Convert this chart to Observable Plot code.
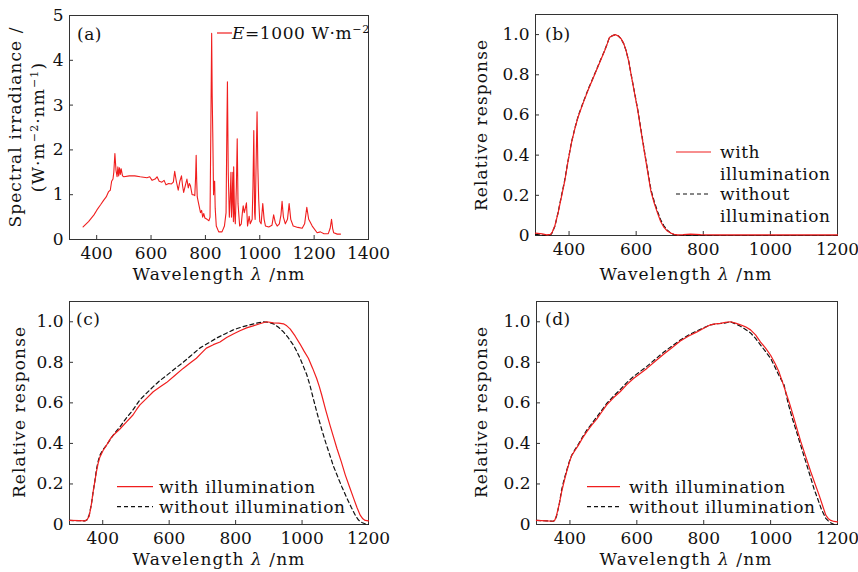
<!DOCTYPE html>
<html><head><meta charset="utf-8">
<script src="https://cdn.jsdelivr.net/npm/d3@7"></script>
<script src="https://cdn.jsdelivr.net/npm/@observablehq/plot@0.6"></script>
<style>
body{margin:0;background:#fff}
#root{position:relative;width:858px;height:572px;overflow:hidden;font-family:"DejaVu Serif",serif}
.panel{position:absolute}
</style>
</head><body><div id="root"></div>
<script>
// ---- data ----
const xTicksA = [400, 600, 800, 1000, 1200, 1400];
const yTicksA = [0, 1, 2, 3, 4, 5];
const xTicksR = [400, 600, 800, 1000, 1200];
const yTicksR = [0, 0.2, 0.4, 0.6, 0.8, 1.0];
const legendWith = "with illumination";
const legendWithout = "without illumination";

// (a) spectral irradiance [nm, W m^-2 nm^-1]
const aSpectrum = [[350,0.28],[370,0.4],[390,0.55],[401,0.66],[415,0.78],[426,0.88],[435,0.95],[444,1.07],[450,1.1],[455,1.3],[460,1.35],[463,1.5],[467,1.92],[471,1.55],[475,1.4],[478,1.62],[481,1.42],[484,1.6],[487,1.45],[490,1.58],[495,1.42],[500,1.4],[520,1.42],[540,1.42],[560,1.4],[585,1.38],[595,1.4],[604,1.32],[615,1.35],[622,1.4],[630,1.3],[640,1.28],[648,1.32],[655,1.22],[665,1.25],[675,1.24],[682,1.28],[687,1.52],[693,1.3],[700,1.1],[706,1.3],[712,1.42],[716,1.2],[720,1.05],[726,1.2],[732,1.35],[737,1.15],[741,1.25],[745,1.2],[751,1.0],[756,1.0],[761,0.98],[764,1.4],[766,1.88],[768,1.3],[770,0.95],[775,0.8],[782,0.6],[786,0.65],[790,0.5],[794,0.58],[798,0.48],[806,0.45],[813,0.42],[817,0.5],[820,2.5],[823,4.6],[825,3.2],[827,2.4],[830,1.0],[832,1.3],[834,1.3],[836,0.7],[840,0.3],[849,0.17],[861,0.17],[870,0.3],[876,0.6],[879,2.5],[881,3.52],[884,1.5],[888,0.5],[891,0.9],[894,1.5],[896,0.5],[898,0.8],[901,1.5],[903,0.4],[904,1.62],[907,0.6],[910,0.35],[914,1.2],[917,2.25],[920,0.8],[926,0.3],[932,0.35],[936,0.6],[939,0.75],[943,0.6],[947,0.7],[951,0.82],[955,0.3],[961,0.52],[965,0.35],[972,0.45],[975,1.2],[978,2.43],[981,0.6],[983,0.45],[986,1.5],[990,2.85],[993,1.6],[996,0.9],[1000,0.4],[1005,0.35],[1011,0.8],[1016,0.45],[1021,0.3],[1033,0.28],[1045,0.32],[1051,0.55],[1057,0.38],[1064,0.3],[1072,0.35],[1078,0.55],[1082,0.85],[1087,0.5],[1094,0.35],[1102,0.45],[1108,0.8],[1114,0.45],[1123,0.3],[1140,0.27],[1156,0.25],[1165,0.35],[1173,0.72],[1180,0.45],[1193,0.3],[1211,0.15],[1223,0.17],[1236,0.13],[1252,0.13],[1259,0.25],[1264,0.45],[1268,0.25],[1272,0.15],[1285,0.12],[1297,0.12]];

// (b)
const bWith = [[300,0.012],[320,0.008],[333,0.003],[345,0.006],[350,0.017],[358,0.05],[367,0.11],[377,0.19],[387,0.27],[397,0.37],[407,0.46],[417,0.53],[427,0.59],[441,0.655],[456,0.72],[471,0.78],[486,0.84],[496,0.88],[506,0.92],[514,0.955],[520,0.985],[530,0.995],[538,1.0],[547,0.993],[555,0.98],[563,0.955],[570,0.92],[578,0.865],[585,0.8],[595,0.71],[605,0.62],[615,0.515],[625,0.41],[635,0.31],[644,0.22],[654,0.16],[664,0.11],[673,0.07],[683,0.04],[693,0.022],[703,0.012],[713,0.006],[723,0.003],[740,0.004],[762,0.007],[792,0.004],[850,0.003],[1000,0.003],[1200,0.003]];
const bWithout = [[300,0.006],[320,0.002],[333,0.0],[345,0.003],[350,0.014],[358,0.048],[367,0.112],[377,0.195],[387,0.275],[397,0.372],[407,0.462],[417,0.532],[427,0.593],[441,0.658],[456,0.724],[471,0.783],[486,0.842],[496,0.882],[506,0.921],[514,0.956],[520,0.984],[530,0.995],[538,1.0],[547,0.993],[555,0.979],[563,0.954],[570,0.92],[578,0.866],[585,0.802],[595,0.713],[605,0.624],[615,0.52],[625,0.416],[635,0.317],[644,0.228],[654,0.168],[664,0.118],[673,0.078],[683,0.047],[693,0.026],[703,0.012],[713,0.004],[723,0.0],[740,0.0],[762,0.002],[792,0.0],[850,0.0],[1000,0.0],[1200,0.0]];

// (c)
const cWith = [[300,0.02],[330,0.019],[346,0.018],[352,0.022],[359,0.04],[365,0.09],[371,0.16],[376,0.21],[381,0.26],[386,0.3],[391,0.33],[401,0.365],[411,0.39],[420,0.415],[426,0.43],[438,0.45],[451,0.47],[471,0.505],[491,0.54],[501,0.565],[512,0.59],[532,0.622],[552,0.655],[572,0.678],[592,0.7],[617,0.735],[642,0.77],[662,0.795],[682,0.82],[697,0.845],[712,0.87],[733,0.887],[753,0.9],[773,0.922],[793,0.94],[813,0.956],[833,0.97],[853,0.98],[873,0.99],[893,1.0],[914,0.995],[930,0.993],[944,0.99],[954,0.98],[964,0.965],[979,0.93],[994,0.89],[1006,0.855],[1019,0.82],[1032,0.77],[1044,0.72],[1052,0.68],[1059,0.64],[1071,0.565],[1084,0.49],[1095,0.43],[1105,0.375],[1118,0.31],[1130,0.245],[1143,0.185],[1155,0.13],[1165,0.085],[1175,0.046],[1183,0.028],[1190,0.02],[1200,0.018]];
const cWithout = [[300,0.02],[330,0.019],[346,0.018],[352,0.022],[359,0.045],[366,0.1],[371,0.16],[376,0.21],[381,0.27],[386,0.31],[391,0.34],[401,0.37],[411,0.39],[421,0.415],[431,0.44],[451,0.48],[471,0.525],[491,0.565],[512,0.615],[532,0.648],[552,0.68],[572,0.71],[592,0.735],[617,0.768],[642,0.8],[667,0.835],[692,0.87],[718,0.895],[743,0.92],[768,0.94],[793,0.96],[818,0.974],[843,0.985],[863,0.993],[883,1.0],[899,0.997],[914,0.99],[929,0.973],[944,0.95],[959,0.92],[974,0.885],[984,0.855],[994,0.82],[1004,0.78],[1014,0.74],[1024,0.685],[1034,0.62],[1046,0.545],[1059,0.47],[1071,0.405],[1084,0.34],[1094,0.29],[1105,0.245],[1120,0.185],[1135,0.13],[1148,0.085],[1160,0.046],[1170,0.022],[1180,0.01],[1195,0.0],[1200,0.0]];

// (d)
const dWith = [[300,0.02],[330,0.018],[350,0.016],[355,0.022],[360,0.046],[368,0.1],[375,0.16],[383,0.215],[390,0.26],[398,0.305],[405,0.34],[415,0.365],[425,0.39],[437,0.425],[450,0.457],[465,0.49],[480,0.52],[495,0.555],[510,0.59],[530,0.625],[550,0.655],[570,0.69],[590,0.72],[610,0.745],[630,0.77],[655,0.805],[680,0.84],[705,0.872],[730,0.905],[755,0.93],[780,0.95],[800,0.968],[820,0.985],[835,0.99],[850,0.992],[865,0.997],[880,1.0],[895,0.993],[910,0.985],[925,0.975],[940,0.96],[955,0.935],[970,0.9],[985,0.87],[1000,0.835],[1013,0.795],[1025,0.753],[1035,0.705],[1045,0.655],[1058,0.59],[1070,0.523],[1080,0.465],[1090,0.41],[1105,0.335],[1120,0.26],[1133,0.2],[1145,0.145],[1155,0.095],[1165,0.046],[1172,0.03],[1180,0.02],[1190,0.015],[1200,0.013]];
const dWithout = [[300,0.02],[330,0.018],[350,0.016],[355,0.02],[360,0.042],[368,0.1],[375,0.17],[383,0.225],[390,0.265],[398,0.31],[405,0.34],[415,0.37],[425,0.395],[437,0.43],[450,0.465],[465,0.497],[480,0.53],[495,0.563],[510,0.597],[530,0.633],[550,0.665],[570,0.7],[590,0.73],[610,0.755],[630,0.78],[655,0.815],[680,0.85],[705,0.88],[730,0.91],[755,0.935],[780,0.955],[800,0.97],[820,0.985],[840,0.99],[860,0.993],[880,1.0],[895,0.99],[910,0.978],[925,0.962],[940,0.945],[955,0.918],[970,0.885],[985,0.853],[1000,0.82],[1012,0.78],[1025,0.735],[1040,0.69],[1052,0.6],[1065,0.523],[1078,0.455],[1090,0.39],[1105,0.31],[1120,0.23],[1130,0.175],[1140,0.13],[1152,0.075],[1165,0.03],[1177,0.01],[1190,0.0],[1200,0.0]];

// ---- drawing ----
const RED = "#f01e1e";
const INK = "#111";
const FS = 17;
const LS = "1.1px";
const root = document.getElementById("root");

function makePanel(cfg) {
  const marks = [
    Plot.frame({stroke: "#333", strokeWidth: 1}),
    Plot.axisX({ticks: cfg.xTicks, tickSize: -4, tickPadding: 11, tickFormat: d => String(d), label: null, stroke: "#333"}),
    Plot.axisY({ticks: cfg.yTicks, tickSize: -4, tickPadding: 10, tickFormat: cfg.yFormat, label: null, stroke: "#333"})
  ];
  for (const s of cfg.series) {
    marks.push(Plot.line(s.data, {x: d => d[0], y: d => d[1], stroke: s.stroke, strokeWidth: s.width || 1.2, strokeDasharray: s.dash || null, curve: "linear"}));
  }
  const svg = Plot.plot({
    width: cfg.w, height: cfg.h,
    marginLeft: cfg.m[0], marginTop: cfg.m[1], marginRight: cfg.m[2], marginBottom: cfg.m[3],
    x: {domain: cfg.xDomain},
    y: {domain: cfg.yDomain},
    style: {fontFamily: '"DejaVu Serif", serif', fontSize: FS + "px", color: INK, background: "transparent", overflow: "visible"},
    marks
  });
  svg.classList.add("panel");
  svg.style.left = cfg.left + "px";
  svg.style.top = cfg.top + "px";
  root.appendChild(svg);
  const g = d3.select(svg).append("g").attr("fill", INK).attr("text-anchor", "start")
    .style("font-size", FS + "px").style("letter-spacing", LS);
  return g;
}

function xLabel(g, cx, y) {
  const t = g.append("text").attr("x", cx).attr("y", y).attr("text-anchor", "middle");
  t.append("tspan").text("Wavelength ");
  t.append("tspan").attr("font-style", "italic").text("λ");
  t.append("tspan").text(" /nm");
}
function yLabel(g, x, cy, txt) {
  g.append("text").attr("transform", `translate(${x},${cy}) rotate(-90)`).attr("text-anchor", "middle").text(txt);
}
function tag(g, x, y, txt) {
  g.append("text").attr("x", x).attr("y", y).style("letter-spacing", "0.5px").text(txt);
}
function legend2(g, x1, x2, tx, y1, y2, lines1, lines2) {
  g.append("line").attr("x1", x1).attr("x2", x2).attr("y1", y1).attr("y2", y1).attr("stroke", RED).attr("stroke-width", 1.2);
  g.append("line").attr("x1", x1).attr("x2", x2).attr("y1", y2).attr("y2", y2).attr("stroke", INK).attr("stroke-width", 1.2).attr("stroke-dasharray", "4,3");
  lines1.forEach((s, i) => g.append("text").attr("x", tx).attr("y", y1 + 6 + i * 22).style("letter-spacing", "0.6px").text(s));
  lines2.forEach((s, i) => g.append("text").attr("x", tx).attr("y", y2 + 6 + i * 22).style("letter-spacing", "0.6px").text(s));
}
const relFmt = d => d === 0 ? "0" : d.toFixed(1);

// (a)
{
  const g = makePanel({left: 0, top: 0, w: 429, h: 286, m: [69, 15, 61, 47],
    xDomain: [300, 1400], yDomain: [0, 5], xTicks: xTicksA, yTicks: yTicksA, yFormat: d => String(d),
    series: [{data: aSpectrum, stroke: RED, width: 1.1}]});
  xLabel(g, 219, 280);
  g.append("text").attr("transform", "translate(21,127) rotate(-90)").attr("text-anchor", "middle").text("Spectral irradiance /");
  const y2 = g.append("text").attr("transform", "translate(44,127) rotate(-90)").attr("text-anchor", "middle");
  y2.append("tspan").text("(W·m");
  y2.append("tspan").attr("dy", -6).style("font-size", "11px").text("−2");
  y2.append("tspan").attr("dy", 6).text("·nm");
  y2.append("tspan").attr("dy", -6).style("font-size", "11px").text("−1");
  y2.append("tspan").attr("dy", 6).text(")");
  tag(g, 77, 40, "(a)");
  g.append("line").attr("x1", 217).attr("x2", 232).attr("y1", 33).attr("y2", 33).attr("stroke", RED).attr("stroke-width", 1.2);
  const lt = g.append("text").attr("x", 232).attr("y", 39).style("letter-spacing", "0.6px");
  lt.append("tspan").attr("font-style", "italic").text("E");
  lt.append("tspan").text("=1000 W·m");
  lt.append("tspan").attr("dy", -6).style("font-size", "11px").text("−2");
}
// (b)
{
  const g = makePanel({left: 429, top: 0, w: 429, h: 286, m: [106, 14, 21, 51],
    xDomain: [300, 1200], yDomain: [0, 1.1], xTicks: xTicksR, yTicks: yTicksR, yFormat: relFmt,
    series: [{data: bWithout, stroke: INK, dash: "4,3"}, {data: bWith, stroke: RED}]});
  xLabel(g, 257, 280);
  yLabel(g, 58, 125, "Relative response");
  tag(g, 116, 40, "(b)");
  legend2(g, 247, 282, 291, 152, 194, ["with", "illumination"], ["without", "illumination"]);
}
// (c)
{
  const g = makePanel({left: 0, top: 286, w: 429, h: 286, m: [69, 15, 61, 48],
    xDomain: [300, 1200], yDomain: [0, 1.1], xTicks: xTicksR, yTicks: yTicksR, yFormat: relFmt,
    series: [{data: cWithout, stroke: INK, dash: "4,3"}, {data: cWith, stroke: RED}]});
  xLabel(g, 219, 279);
  yLabel(g, 25, 126, "Relative response");
  tag(g, 76, 39, "(c)");
  legend2(g, 117, 153, 159, 200.7, 220.7, [legendWith], [legendWithout]);
}
// (d)
{
  const g = makePanel({left: 429, top: 286, w: 429, h: 286, m: [107, 15, 21, 48],
    xDomain: [300, 1200], yDomain: [0, 1.1], xTicks: xTicksR, yTicks: yTicksR, yFormat: relFmt,
    series: [{data: dWithout, stroke: INK, dash: "4,3"}, {data: dWith, stroke: RED}]});
  xLabel(g, 257, 279);
  yLabel(g, 58, 126, "Relative response");
  tag(g, 116, 39, "(d)");
  legend2(g, 158, 191, 200, 200.7, 220.7, [legendWith], [legendWithout]);
}
</script></body></html>
